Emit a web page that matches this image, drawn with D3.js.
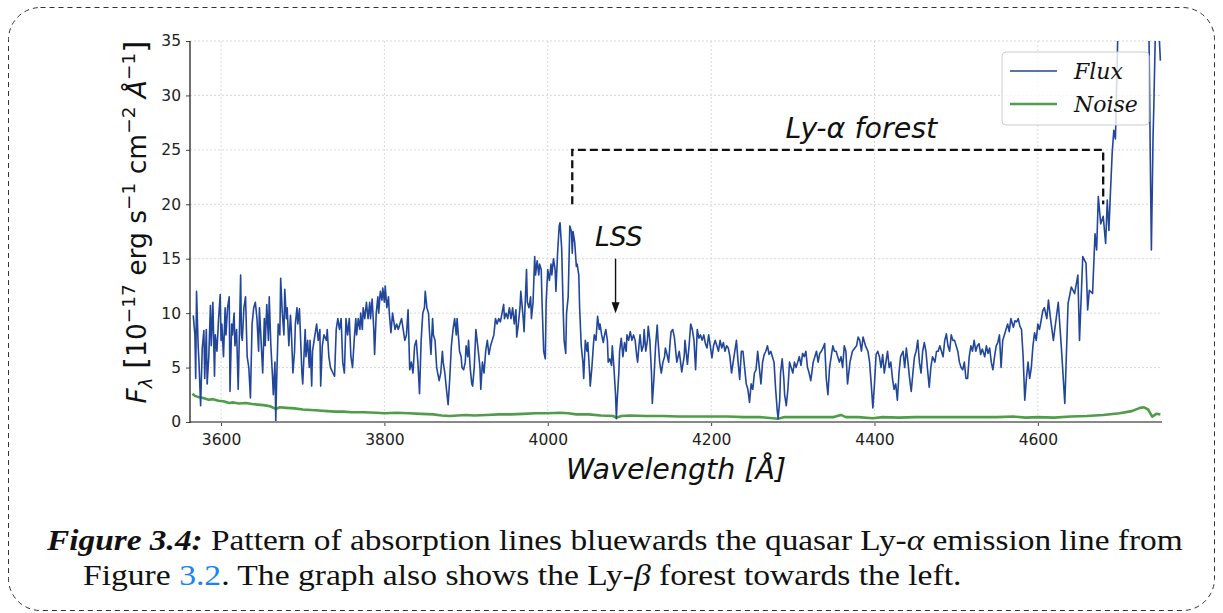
<!DOCTYPE html>
<html>
<head>
<meta charset="utf-8">
<script src="https://cdn.jsdelivr.net/npm/d3@7"></script>
<style>
  html, body { margin: 0; padding: 0; background: #fff; }
  svg { display: block; }
</style>
</head>
<body>
<svg id="chart" width="1223" height="613"></svg>
<script>
// ---------------- DATA ----------------
const wavelength = [
3566,3568,3569,3570,3572,3573,3575,3577,3579,3580,3582,3583,3585,3587,3588,3590,3592,3593,3595,3597,3599,3600,3601,3603,3605,3606,3608,3610,3611,3613,3614,3616,3617,3619,3621,3624,3625,3626,3628,3630,3632,3634,3636,3638,3640,3642,3644,3646,3647,3649,3651,3653,3654,3656,3658,3659,3661,3663,3664,3666,3667,3668,3670,3672,3673,3675,3677,3678,3680,3681,3683,3685,3686,3688,3690,3691,3693,3694,3696,3699,3700,3703,3704,3706,3708,3709,3711,3712,3714,3716,3717,3719,3721,3722,3724,3726,3729,3730,3732,3734,3737,3739,3741,3743,3745,3747,3749,3751,3753,3755,3757,3759,3761,
3763,3765,3766,3768,3770,3771,3773,3774,3776,3778,3780,3782,3783,3785,3787,3788,3790,3792,3793,3795,3797,3798,3800,3801,3803,3805,3806,3808,3810,3811,3813,3815,3817,3819,3821,3823,3825,3827,3829,3831,3833,3835,3837,3839,3841,3843,3845,3847,3849,3850,3852,3854,3855,3857,3859,3860,3862,3864,3867,3869,3871,3872,3874,3876,3878,3880,3882,3884,3886,3888,3889,3891,3892,3894,3895,3897,3899,3900,3902,3903,3905,3907,3908,3910,3912,3915,3917,3918,3920,3922,3924,3926,3928,3930,3932,3934,3936,3938,3940,3942,3944,3946,3947,3949,3951,3953,3955,3957,
3959,3961,3962,3964,3966,3967,3970,3971,3974,3975,3977,3979,3980,3982,3984,3985,3987,3989,3990,3992,3993,3995,3997,3998,4000,4002,4004,4005,4007,4009,4010,4012,4014,4015,4017,4019,4020,4022,4023,4025,4027,4029,4030,4031,4033,4035,4036,4038,4039,4041,4043,4044,4046,4048,4049,4051,4052,4054,4056,4057,4059,4061,4063,4064,4066,4068,4069,4071,4073,4074,4076,4078,4079,4081,4083,4084,4085,4087,4088,4090,4092,4094,4096,4097,4099,4101,4103,4105,4107,4109,4110,4112,4113,4115,4117,4118,4120,4122,4123,4125,4127,4128,4130,4132,4134,4135,4137,4139,4141,4143,4144,4146,4148,4150,4151,4153,4155,
4158,4161,4164,4167,4168,4171,4173,4175,4177,4179,4181,4183,4185,4187,4189,4191,4193,4195,4197,4199,4201,4203,4205,4207,4209,4211,4213,4215,4217,4219,4221,4223,4225,4227,4229,4231,4233,4235,4237,4239,4241,4243,4245,4247,4249,4251,4253,4255,4257,4259,4261,4263,4265,4267,4269,4271,4273,4275,4277,4279,4281,4282,4284,4285,4287,4289,4290,4292,4294,4296,4298,4300,4302,4304,4306,4308,4310,4312,4314,4316,4318,4320,4322,4325,4327,4329,4331,4333,4335,4337,4339,4341,4343,4345,4349,
4351,4353,4357,4359,4361,4363,4365,4367,4370,4373,4378,4380,4382,4384,4386,4389,4392,4394,4396,4398,4400,4402,4404,4406,4408,4410,4412,4414,4416,4418,4420,4422,4424,4426,4428,4430,4432,4435,4437,4439,4441,4443,4445,4447,4449,4451,4453,4455,4457,4459,4461,4463,4465,4467,4469,4471,4474,4476,4478,4480,4482,4484,4486,4488,4490,4492,4494,4496,4498,4500,4502,4504,4506,4508,4510,4512,4514,4516,4518,4520,4522,4524,4526,4528,4530,4532,4535,4537,4539,4541,4543,4545,4547,4549,4551,4553,4555,4557,4559,4561,4563,4565,4567,4570,4572,4574,4576,4578,4580,4582,4584,4586,4588,4590,4592,4594,4596,4598,4600,4602,4604,4606,4608,4611,4613,
4615,4619,4625,4629,4633,4637,4641,4645,4649,4651,4655,4659,4661,4663,4667,4670,4672,4674,4677,4680,4683,4685,4687,4689,4691,4693,4695,4698,4702,4708,4715,4722,4728,4733,4736,4738,4739,4741,4742,4745,4747,4750
];
const flux = [
9.8,8.0,4.0,12.0,7.0,5.5,1.5,6.8,8.4,4.0,8.5,3.5,6.0,10.7,7.0,11.0,4.2,8.0,6.5,9.5,11.7,7.5,9.0,6.0,10.5,8.0,10.5,11.5,2.8,9.0,8.0,10.0,7.0,8.5,3.0,13.5,8.0,7.5,10.5,11.5,6.0,5.0,2.2,9.0,10.5,11.0,9.5,6.5,10.5,7.5,4.5,9.5,7.0,10.8,7.5,11.5,7.0,4.2,2.5,5.5,0.0,3.5,9.0,8.0,13.2,10.0,8.0,12.2,9.5,10.5,7.0,9.8,8.5,4.5,6.5,9.0,10.5,9.0,10.4,4.5,3.5,8.5,6.0,7.5,5.0,7.5,3.3,6.5,7.5,8.5,9.0,7.5,8.5,3.3,7.0,8.0,7.5,8.5,6.0,5.0,4.5,4.2,8.5,9.5,8.5,9.5,5.5,4.5,9.5,8.0,9.5,6.0,5.0,
7.5,9.5,8.0,9.5,8.5,10.0,8.5,10.5,9.5,11.0,9.5,11.0,9.5,11.3,8.5,6.2,10.0,11.5,10.0,12.0,11.2,12.3,11.0,12.5,10.5,11.5,10.0,8.2,10.0,9.5,8.5,9.0,8.5,9.0,9.5,8.5,7.5,8.0,10.3,4.8,5.5,4.5,7.0,7.5,5.5,2.6,7.5,10.0,10.5,12.0,10.5,10.0,8.5,6.2,9.5,8.0,7.5,5.0,3.8,4.5,6.5,5.5,4.5,3.0,1.6,4.0,7.0,8.5,9.5,8.0,9.5,7.5,6.5,6.0,5.0,4.8,5.5,7.0,6.0,7.5,5.0,3.5,3.3,5.0,8.5,6.5,5.0,3.0,5.5,4.5,6.5,7.5,6.2,7.0,7.5,8.0,9.5,9.0,9.5,9.2,10.0,10.8,9.5,10.0,9.5,10.5,9.5,10.5,
9.0,10.3,7.8,9.0,10.5,12.0,9.5,8.3,14.0,11.0,10.5,11.5,9.5,11.0,15.2,13.5,14.8,13.5,14.5,14.0,11.0,6.5,5.8,11.0,14.0,13.0,14.5,13.5,15.0,14.0,12.0,15.5,18.0,18.3,16.0,10.0,7.5,6.3,10.0,11.5,18.0,17.5,15.5,17.5,16.5,14.3,14.5,13.5,10.5,7.0,5.5,4.0,7.5,6.5,7.3,4.8,3.3,5.0,7.2,8.0,7.5,9.7,8.5,9.0,8.0,7.3,7.8,8.5,7.5,5.5,5.8,5.2,7.0,5.0,2.5,0.3,2.0,4.5,6.5,7.7,6.0,7.3,6.5,8.0,7.5,8.3,7.5,8.0,7.5,6.0,5.5,7.3,8.0,6.5,7.0,8.5,6.5,7.5,8.8,7.5,4.5,1.7,4.0,7.0,8.9,7.5,5.5,4.5,5.5,6.0,6.8,6.2,5.5,7.5,8.3,8.5,7.8,
5.5,6.5,4.6,6.0,7.5,5.3,7.0,9.0,8.5,7.5,4.8,8.5,7.7,8.0,7.5,8.0,7.2,6.8,8.0,7.0,5.9,7.0,7.5,7.0,6.5,7.5,6.8,7.3,6.5,7.0,6.8,6.0,4.5,5.5,6.5,7.5,5.5,3.9,6.5,6.5,5.0,3.5,3.0,1.8,3.5,3.0,4.5,4.8,6.5,5.0,3.5,5.5,6.2,6.5,7.0,6.2,6.5,6.0,5.5,3.0,1.0,0.3,2.0,4.5,5.8,4.0,2.5,1.5,3.0,5.5,5.0,4.5,5.5,5.0,5.5,6.0,5.2,6.3,6.0,6.5,5.0,4.5,3.8,5.5,6.0,6.5,5.5,6.3,6.5,6.8,7.2,4.0,2.5,5.0,7.0,
6.5,6.5,5.5,6.0,5.0,7.0,6.5,3.5,5.5,6.5,7.0,7.8,7.5,6.5,7.8,7.0,6.5,5.5,3.5,1.3,3.5,6.2,6.5,6.0,5.0,6.2,4.5,5.5,6.5,5.0,5.5,4.0,3.0,3.5,2.0,4.5,6.0,6.5,5.0,6.8,5.5,4.0,2.8,4.5,6.0,6.5,7.5,5.5,4.5,6.5,7.3,6.5,4.8,3.2,5.0,6.0,5.5,6.5,6.5,7.0,6.5,6.0,7.5,8.1,7.0,6.5,8.0,7.5,7.5,7.0,6.5,5.5,5.0,4.8,5.5,4.0,4.0,6.0,7.0,6.5,7.5,6.5,7.0,7.2,6.2,6.7,6.0,7.0,6.3,6.8,5.5,4.8,6.0,7.0,7.3,8.0,5.0,7.5,8.0,8.5,9.0,8.3,9.5,8.7,9.3,9.2,9.5,8.8,8.5,6.0,2.0,4.0,5.5,4.0,5.0,7.0,8.2,7.5,9.0,8.5,9.3,10.2,10.5,9.5,11.2,
9.8,7.5,11.0,6.6,1.7,10.9,12.4,11.8,13.5,7.5,15.2,14.6,10.3,12.1,11.8,17.3,15.8,20.7,18.2,18.9,16.4,20.4,17.6,21.3,24.7,26.8,26.0,36.0,42.0,48.0,52.0,55.0,50.0,45.0,36.0,22.0,15.8,26.0,29.0,40.0,38.0,33.2
];
const noiseWavelength = [3565,3568,3572,3578,3585,3590,3597,3603,3610,3615,3622,3630,3638,3645,3652,3660,3667,3672,3680,3690,3700,3710,3720,3730,3740,3750,3760,3775,3790,3800,3815,3830,3845,3860,3870,3880,3890,3900,3910,3925,3940,3955,3970,3985,4000,4015,4025,4035,4050,4065,4080,4084,4090,4100,4120,4140,4160,4180,4200,4220,4240,4260,4282,4290,4310,4330,4350,4359,4365,4380,4398,4410,4430,4450,4470,4490,4510,4530,4550,4570,4585,4600,4620,4640,4660,4680,4700,4715,4725,4730,4735,4740,4745,4750];
const noise = [2.6,2.4,2.3,2.2,2.05,2.1,1.95,1.9,1.75,1.8,1.7,1.75,1.65,1.6,1.55,1.45,1.2,1.35,1.3,1.25,1.15,1.1,1.05,1.0,0.95,0.95,0.9,0.9,0.85,0.8,0.85,0.8,0.75,0.7,0.6,0.55,0.6,0.65,0.6,0.65,0.7,0.7,0.75,0.8,0.8,0.85,0.8,0.7,0.7,0.6,0.55,0.4,0.55,0.6,0.55,0.55,0.5,0.5,0.5,0.5,0.45,0.45,0.3,0.45,0.45,0.45,0.45,0.65,0.45,0.45,0.35,0.45,0.4,0.45,0.45,0.45,0.45,0.45,0.45,0.5,0.4,0.45,0.4,0.5,0.55,0.65,0.8,1.0,1.3,1.35,1.15,0.5,0.75,0.7];

const xTicks = [3600, 3800, 4000, 4200, 4400, 4600];
const yTicks = [0, 5, 10, 15, 20, 25, 30, 35];
const seriesNames = ["Flux", "Noise"];
const forestBracket = [[4030, 20], [4030, 25], [4680, 25], [4680, 20]];
const forestLabel = "Ly-α forest";
const lssLabel = "LSS";
const lssArrow = [[4083, 15], [4083, 10]];

// ---------------- CHART ----------------
const svg = d3.select("#chart");
const m = { left: 190, right: 1162, top: 41, bottom: 422 };
const x = d3.scaleLinear().domain([3562, 4752]).range([m.left, m.right]);
const y = d3.scaleLinear().domain([0, 35]).range([m.bottom, m.top]);
const fluxColor = "#21469a";
const noiseColor = "#4f9d48";

// outer dashed rounded frame
svg.append("rect")
  .attr("x", 8.5).attr("y", 7.5).attr("width", 1206).attr("height", 603)
  .attr("rx", 32).attr("ry", 32)
  .attr("fill", "none").attr("stroke", "#333").attr("stroke-width", 1)
  .attr("stroke-dasharray", "5,4");

// grid
const grid = svg.append("g");
grid.selectAll("line.gx").data(xTicks).join("line")
  .attr("x1", d => x(d)).attr("x2", d => x(d)).attr("y1", m.top).attr("y2", m.bottom)
  .attr("stroke", "#cfcfcf").attr("stroke-width", 0.8).attr("stroke-dasharray", "2,2");
grid.selectAll("line.gy").data(yTicks.slice(1)).join("line")
  .attr("x1", m.left).attr("x2", m.right).attr("y1", d => y(d)).attr("y2", d => y(d))
  .attr("stroke", "#cfcfcf").attr("stroke-width", 0.8).attr("stroke-dasharray", "2,2");

// clip
svg.append("clipPath").attr("id", "plotclip").append("rect")
  .attr("x", m.left).attr("y", m.top).attr("width", m.right - m.left).attr("height", m.bottom - m.top);

const plot = svg.append("g").attr("clip-path", "url(#plotclip)");
const fluxData = wavelength.map((w, i) => [w, flux[i]]);
const noiseData = noiseWavelength.map((w, i) => [w, noise[i]]);
const line = d3.line().x(d => x(d[0])).y(d => y(d[1]));

plot.append("path").datum(noiseData).attr("d", line)
  .attr("fill", "none").attr("stroke", noiseColor).attr("stroke-width", 2.6).attr("stroke-linejoin", "round");
plot.append("path").datum(fluxData).attr("d", line)
  .attr("fill", "none").attr("stroke", fluxColor).attr("stroke-width", 1.6).attr("stroke-linejoin", "round");

// axes
const xAxis = svg.append("g").attr("transform", `translate(0,${m.bottom})`)
  .call(d3.axisBottom(x).tickValues(xTicks).tickSize(4).tickPadding(5).tickFormat(d3.format("d")));
const yAxis = svg.append("g").attr("transform", `translate(${m.left},0)`)
  .call(d3.axisLeft(y).tickValues(yTicks).tickSize(4).tickPadding(5));
[xAxis, yAxis].forEach(a => {
  a.selectAll("text").style("font-family", "DejaVu Sans").style("font-size", "15.5px").attr("fill", "#222");
  a.selectAll(".tick line").attr("stroke", "#444");
  a.select(".domain").remove();
});
xAxis.selectAll("text").attr("dy", "0.9em");
// spines
svg.append("line").attr("x1", m.left).attr("x2", m.right).attr("y1", m.bottom).attr("y2", m.bottom)
  .attr("stroke", "#888").attr("stroke-width", 2);
svg.append("line").attr("x1", m.left).attr("x2", m.left).attr("y1", m.top).attr("y2", m.bottom + 1)
  .attr("stroke", "#222").attr("stroke-width", 1.3);

// x label
svg.append("text").attr("x", 676).attr("y", 479).attr("text-anchor", "middle")
  .style("font-family", "DejaVu Sans").style("font-style", "italic").style("font-size", "28.5px")
  .attr("fill", "#111").text("Wavelength [Å]");

// y label
const yl = svg.append("g").attr("transform", "translate(146,222) rotate(-90)")
  .append("text").attr("text-anchor", "middle")
  .style("font-family", "DejaVu Sans").style("font-size", "26.5px").attr("fill", "#111");
const parts = [
  { t: "F", it: true, s: 0 },
  { t: "λ", it: true, s: 6, fs: 18 },
  { t: " ", s: 0 },
  { t: "[", s: 0, fs: 31 },
  { t: "10", s: 0 },
  { t: "−17", s: -11, fs: 18.5 },
  { t: " erg s", s: 0 },
  { t: "−1", s: -11, fs: 18.5 },
  { t: " cm", s: 0 },
  { t: "−2", s: -11, fs: 18.5 },
  { t: " Å", it: true, s: 0 },
  { t: "−1", s: -11, fs: 18.5 },
  { t: "]", s: 0, fs: 31 }
];
let prev = 0;
parts.forEach(p => {
  const ts = yl.append("tspan").attr("dy", p.s - prev).text(p.t);
  if (p.it) ts.style("font-style", "italic");
  if (p.fs) ts.style("font-size", p.fs + "px");
  prev = p.s;
});

// annotations
svg.append("path").datum(forestBracket).attr("d", line)
  .attr("fill", "none").attr("stroke", "#111").attr("stroke-width", 2.3).attr("stroke-dasharray", "8,4");
svg.append("text").attr("x", x(4384)).attr("y", y(26.1)).attr("text-anchor", "middle")
  .style("font-family", "DejaVu Sans").style("font-style", "italic").style("font-size", "28.5px")
  .attr("fill", "#111").text(forestLabel);
svg.append("text").attr("x", x(4087)).attr("y", y(16.15)).attr("text-anchor", "middle")
  .style("font-family", "DejaVu Sans").style("font-style", "italic").style("font-size", "26.5px")
  .attr("fill", "#111").text(lssLabel);
svg.append("line").attr("x1", x(lssArrow[0][0])).attr("x2", x(lssArrow[1][0]))
  .attr("y1", y(lssArrow[0][1])).attr("y2", y(lssArrow[1][1]) - 9)
  .attr("stroke", "#111").attr("stroke-width", 1.4);
{
  const ax = x(lssArrow[1][0]), ay = y(lssArrow[1][1]);
  svg.append("path").attr("d", `M${ax - 4},${ay - 11} L${ax + 4},${ay - 11} L${ax},${ay} Z`).attr("fill", "#111");
}

// legend
const lg = svg.append("g");
lg.append("rect").attr("x", 1002).attr("y", 52).attr("width", 147).attr("height", 73).attr("rx", 4)
  .attr("fill", "#fff").attr("fill-opacity", 0.8).attr("stroke", "#cccccc").attr("stroke-width", 1);
const legendItems = [
  { name: seriesNames[0], color: fluxColor, w: 1.5, yy: 71 },
  { name: seriesNames[1], color: noiseColor, w: 2.6, yy: 104 }
];
legendItems.forEach(it => {
  lg.append("line").attr("x1", 1010).attr("x2", 1057).attr("y1", it.yy).attr("y2", it.yy)
    .attr("stroke", it.color).attr("stroke-width", it.w);
  lg.append("text").attr("x", 1074).attr("y", it.yy + 8)
    .style("font-family", "DejaVu Serif").style("font-style", "italic").style("font-size", "22px")
    .attr("fill", "#111").text(it.name);
});

// caption
function captionLine(xPos, yPos, targetW, segs) {
  const g = svg.append("g");
  const t = g.append("text").attr("x", 0).attr("y", 0)
    .style("font-family", "Liberation Serif").style("font-size", "29px").attr("fill", "#111");
  segs.forEach(s => {
    const ts = t.append("tspan").text(s.t);
    if (s.b) ts.style("font-weight", "bold");
    if (s.i) ts.style("font-style", "italic");
    if (s.c) ts.attr("fill", s.c);
  });
  const w = t.node().getComputedTextLength();
  g.attr("transform", `translate(${xPos},${yPos}) scale(${targetW / w},1)`);
}
captionLine(47, 550, 1136, [
  { t: "Figure 3.4:", b: true, i: true },
  { t: " Pattern of absorption lines bluewards the quasar Ly-" },
  { t: "α", i: true },
  { t: " emission line from" }
]);
captionLine(83, 585, 879, [
  { t: "Figure " },
  { t: "3.2", c: "#1a84f0" },
  { t: ". The graph also shows the Ly-" },
  { t: "β", i: true },
  { t: " forest towards the left." }
]);
</script>
</body>
</html>
